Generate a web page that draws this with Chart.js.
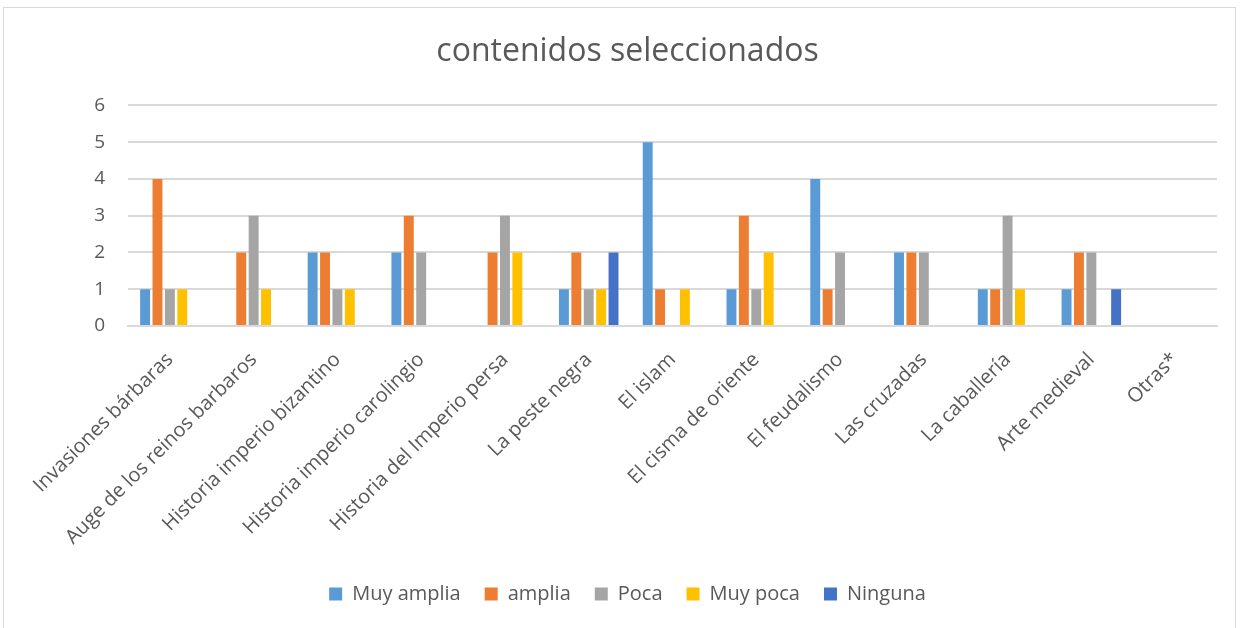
<!DOCTYPE html>
<html><head><meta charset="utf-8">
<script src="https://cdn.jsdelivr.net/npm/chart.js@4.4.1/dist/chart.umd.min.js"></script>
<style>
html,body{margin:0;padding:0;background:#fff;}
#wrap{position:absolute;left:0;top:0;width:1241px;height:628px;}
#frame{position:absolute;left:3px;top:7px;width:1233px;height:630px;border:1px solid #d9d9d9;box-sizing:border-box;pointer-events:none;}
</style></head>
<body>
<div id="wrap"><canvas id="c" width="1241" height="628"></canvas></div>
<div id="frame"></div>
<script>
const categories = ["Invasiones bárbaras","Auge de los reinos barbaros","Historia imperio bizantino","Historia imperio carolingio","Historia del Imperio persa","La peste negra","El islam","El cisma de oriente","El feudalismo","Las cruzadas","La caballería","Arte medieval","Otras*"];
const muyAmplia = [1,0,2,2,0,1,5,1,4,2,1,1,0];
const amplia    = [4,2,2,3,2,2,1,3,1,2,1,2,0];
const poca      = [1,3,1,2,3,1,0,1,2,2,3,2,0];
const muyPoca   = [1,1,1,0,2,1,1,2,0,0,1,0,0];
const ninguna   = [0,0,0,0,0,2,0,0,0,0,0,1,0];
const yTicks = [0,1,2,3,4,5,6];
const titleText = "contenidos seleccionados";

const FONT = "'Open Sans', sans-serif";
const TXT = "#595959";
function ds(label, data, color){
  return {label, data, backgroundColor: color, borderWidth: 0, barPercentage: 0.8, categoryPercentage: 0.74};
}
new Chart(document.getElementById('c'), {
  type: 'bar',
  data: {
    labels: categories,
    datasets: [
      ds("Muy amplia", muyAmplia, "#5B9BD5"),
      ds("amplia", amplia, "#ED7D31"),
      ds("Poca", poca, "#A5A5A5"),
      ds("Muy poca", muyPoca, "#FFC000"),
      ds("Ninguna", ninguna, "#4472C4")
    ]
  },
  options: {
    responsive: false,
    animation: false,
    devicePixelRatio: 1,
    layout: {padding: {left: 38, right: 24, top: 0, bottom: 14}},
    plugins: {
      title: {display: true, text: titleText, color: TXT, font: {family: FONT, size: 32, weight: 'normal'}, padding: {top: 33, bottom: 34}},
      legend: {position: 'bottom', labels: {boxWidth: 13, boxHeight: 13, color: TXT, font: {family: FONT, size: 20}, padding: 24}},
      tooltip: {enabled: false}
    },
    scales: {
      x: {
        grid: {display: false, drawTicks: false},
        border: {display: true, color: "#d9d9d9", width: 2},
        ticks: {color: TXT, font: {family: FONT, size: 20}, minRotation: 45, maxRotation: 45, autoSkip: false, padding: 22},
        afterFit: (s) => { s.height = 234; }
      },
      y: {
        min: 0, max: 6,
        afterBuildTicks: (s) => { s.ticks = yTicks.map(v => ({value: v})); },
        grid: {color: "#d9d9d9", lineWidth: 2, drawTicks: false},
        border: {display: false},
        ticks: {color: TXT, font: {family: FONT, size: 19}, padding: 23},
        afterFit: (s) => { s.width = 90; }
      }
    }
  }
});
</script>
</body></html>
